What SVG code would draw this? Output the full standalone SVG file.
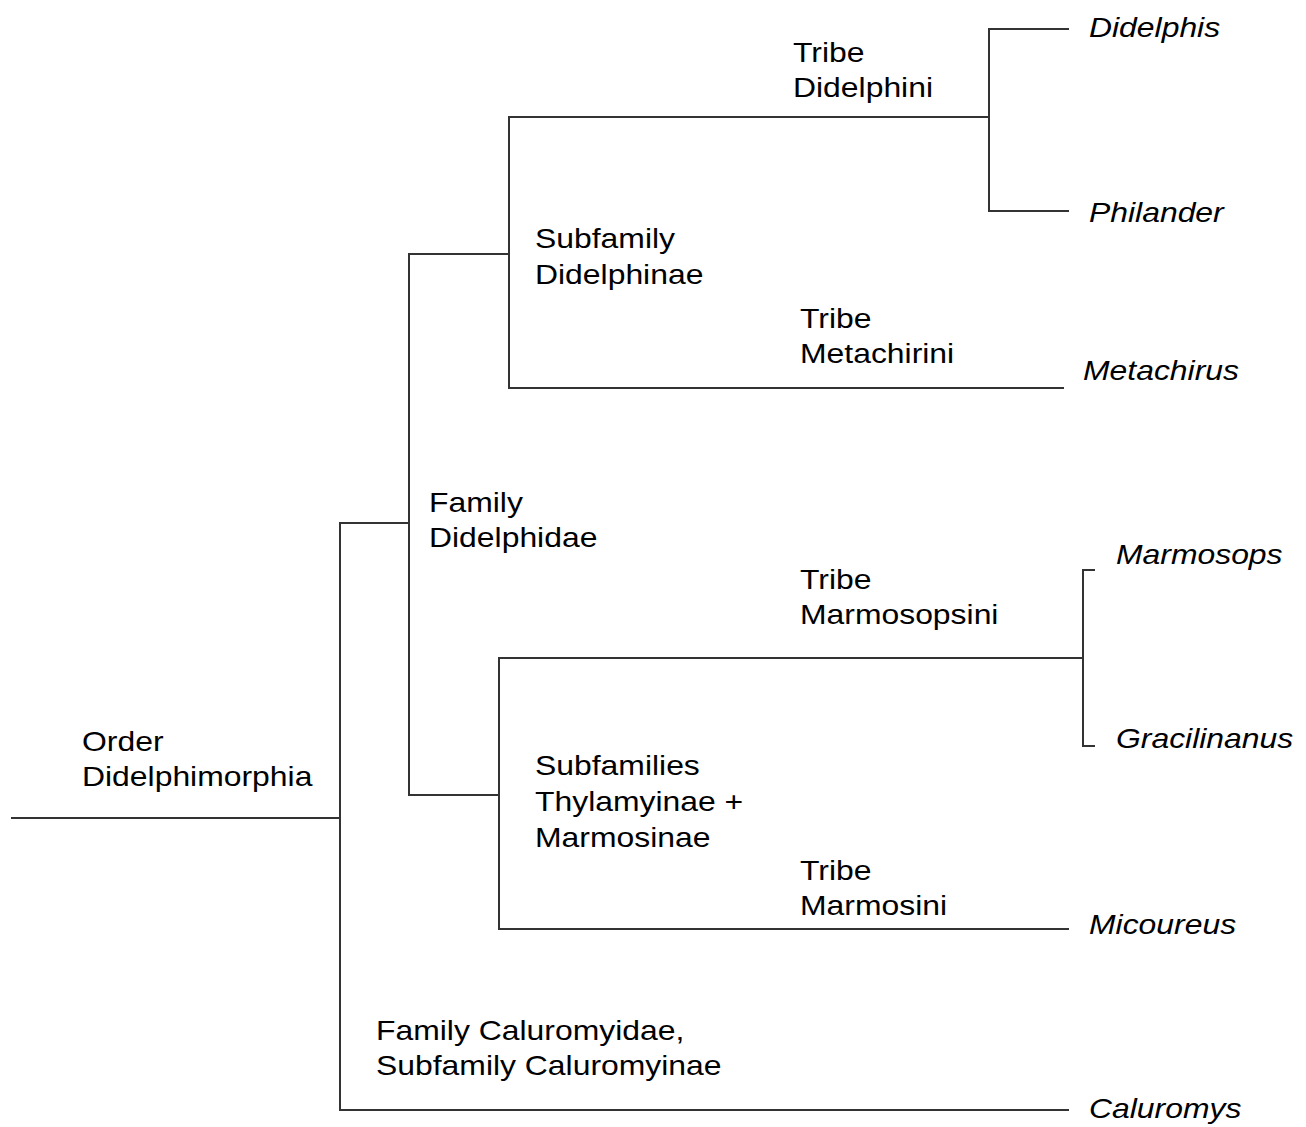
<svg xmlns="http://www.w3.org/2000/svg" width="1306" height="1127" viewBox="0 0 1306 1127">
<style>
.c{fill:none;stroke:#333;stroke-width:2;stroke-linecap:square}
.t{font-family:"Liberation Sans",Arial,sans-serif;font-size:27.5px;fill:#000}
.g{font-family:"Liberation Sans",Arial,sans-serif;font-size:27.5px;font-style:italic;fill:#000}
</style>
<rect width="1306" height="1127" fill="#fff"/>
<g id="connectors">
<path class="c" d="M12 818 H340"/>
<path class="c" d="M409 523 H340 V1110 H1068"/>
<path class="c" d="M509 254 H409 V795 H499"/>
<path class="c" d="M989 117 H509 V388 H1063"/>
<path class="c" d="M1068 29 H989 V211 H1068"/>
<path class="c" d="M1083 658 H499 V929 H1068"/>
<path class="c" d="M1094 570 H1083 V746 H1094"/>
</g>
<g id="order"><text class="t" transform="translate(82 750.5) scale(1.16 1)">Order</text><text class="t" transform="translate(82 786) scale(1.16 1)">Didelphimorphia</text></g>
<g id="family-didelphidae"><text class="t" transform="translate(429 511.5) scale(1.16 1)">Family</text><text class="t" transform="translate(429 546.5) scale(1.16 1)">Didelphidae</text></g>
<g id="subfamily-didelphinae"><text class="t" transform="translate(535 247.5) scale(1.16 1)">Subfamily</text><text class="t" transform="translate(535 283.5) scale(1.16 1)">Didelphinae</text></g>
<g id="tribe-didelphini"><text class="t" transform="translate(793 61.5) scale(1.16 1)">Tribe</text><text class="t" transform="translate(793 96.5) scale(1.16 1)">Didelphini</text></g>
<g id="tribe-metachirini"><text class="t" transform="translate(800 328) scale(1.16 1)">Tribe</text><text class="t" transform="translate(800 363) scale(1.16 1)">Metachirini</text></g>
<g id="subfamilies-thylamyinae"><text class="t" transform="translate(535 775) scale(1.16 1)">Subfamilies</text><text class="t" transform="translate(535 811) scale(1.16 1)">Thylamyinae +</text><text class="t" transform="translate(535 847) scale(1.16 1)">Marmosinae</text></g>
<g id="tribe-marmosopsini"><text class="t" transform="translate(800 589) scale(1.16 1)">Tribe</text><text class="t" transform="translate(800 624) scale(1.16 1)">Marmosopsini</text></g>
<g id="tribe-marmosini"><text class="t" transform="translate(800 880) scale(1.16 1)">Tribe</text><text class="t" transform="translate(800 915) scale(1.16 1)">Marmosini</text></g>
<g id="family-caluromyidae"><text class="t" transform="translate(376 1040) scale(1.16 1)">Family Caluromyidae,</text><text class="t" transform="translate(376 1075) scale(1.16 1)">Subfamily Caluromyinae</text></g>
<g id="didelphis"><text class="g" transform="translate(1089 36.5) scale(1.16 1)">Didelphis</text></g>
<g id="philander"><text class="g" transform="translate(1089 221.5) scale(1.16 1)">Philander</text></g>
<g id="metachirus"><text class="g" transform="translate(1083 380) scale(1.16 1)">Metachirus</text></g>
<g id="marmosops"><text class="g" transform="translate(1116 564) scale(1.16 1)">Marmosops</text></g>
<g id="gracilinanus"><text class="g" transform="translate(1116 748) scale(1.16 1)">Gracilinanus</text></g>
<g id="micoureus"><text class="g" transform="translate(1089 933.5) scale(1.16 1)">Micoureus</text></g>
<g id="caluromys"><text class="g" transform="translate(1089 1117.5) scale(1.16 1)">Caluromys</text></g>
</svg>
